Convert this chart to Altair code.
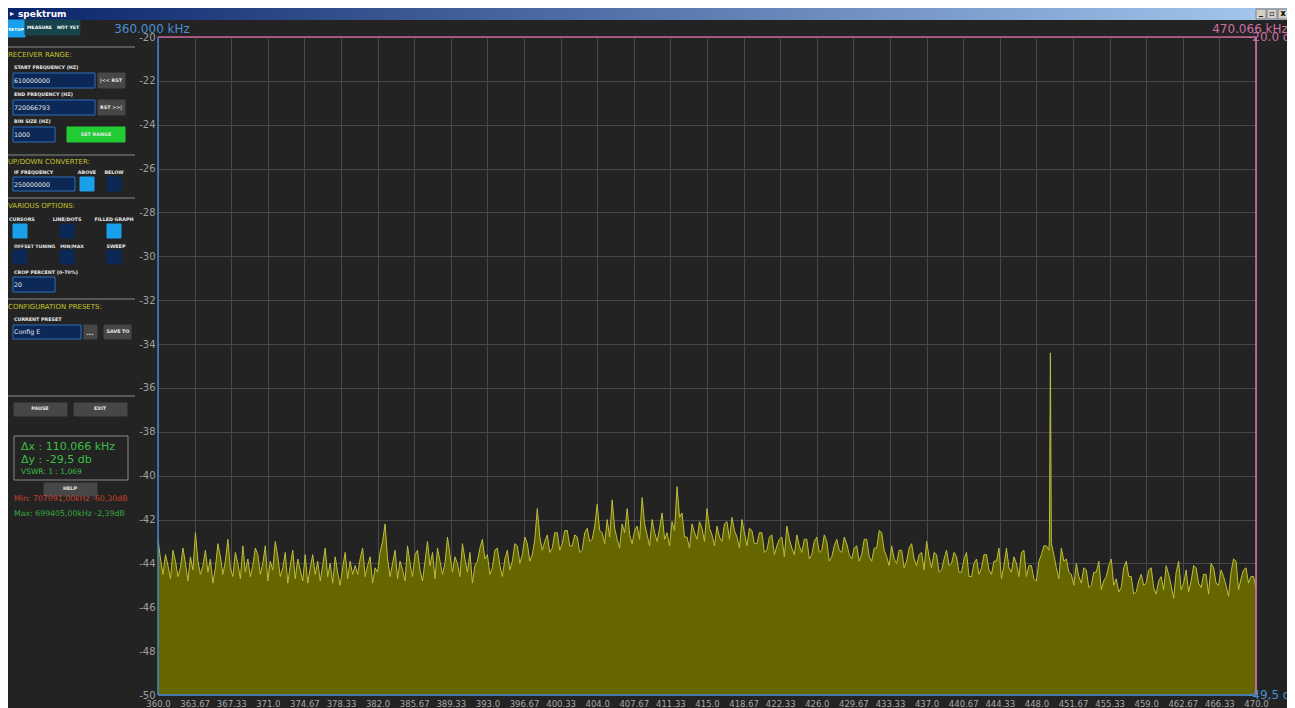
import altair as alt
import pandas as pd

# ---------------- spectrum data ----------------
START_KHZ = 360.0
STEP_KHZ = 0.25
# level of every 0.25 kHz bin from 360.00 to 470.00 kHz (dB), 20 bins per row
db_values = [
    -42.9, -43.8, -44.5, -43.6, -44.1, -44.7, -43.4, -43.9, -44.6, -44.2, -43.3, -44.0, -44.8, -43.7, -44.3, -42.6, -43.9, -44.5, -44.1, -43.4,
    -44.4, -43.8, -44.9, -44.2, -43.1, -43.7, -44.5, -43.9, -42.9, -44.2, -44.6, -43.5, -44.0, -44.7, -43.2, -44.4, -43.8, -44.6, -44.1, -43.3,
    -43.6, -44.5, -44.0, -43.2, -44.8, -43.9, -44.3, -43.0, -43.7, -44.6, -44.2, -43.5, -44.9, -44.1, -43.4, -44.7, -43.8, -44.3, -44.8, -43.6,
    -44.9, -44.2, -43.6, -44.5, -43.9, -44.8, -44.1, -43.3, -44.6, -44.0, -44.9, -43.7, -44.4, -45.0, -44.2, -43.5, -44.7, -43.9, -44.5, -44.1,
    -44.5, -43.8, -43.3, -44.6, -44.1, -43.7, -44.9, -44.2, -44.4, -43.5, -43.0, -42.2, -43.8, -44.6, -44.0, -43.4, -44.7, -43.9, -44.3, -44.8,
    -43.2, -44.0, -44.6, -43.6, -43.4, -44.3, -44.8, -43.9, -43.0, -44.1, -43.5, -44.7, -43.3, -43.9, -44.5, -44.0, -42.8, -43.6, -44.4, -43.7,
    -44.0, -44.6, -43.1, -43.8, -44.4, -43.5, -44.9, -44.1, -43.9, -43.3, -42.9, -43.8, -43.6, -44.5, -44.2, -43.4, -43.3, -44.1, -44.6, -43.8,
    -43.4, -44.3, -43.9, -43.1, -43.2, -44.0, -43.6, -42.8, -43.1, -43.9, -43.6, -42.9, -41.5, -42.8, -43.4, -43.0, -42.7, -43.5, -43.3, -42.6,
    -42.6, -43.4, -43.1, -42.5, -42.5, -43.2, -43.2, -42.7, -42.8, -43.5, -43.4, -42.6, -42.4, -43.0, -42.9, -42.3, -41.3, -42.5, -42.6, -43.1,
    -42.0, -42.8, -41.1, -42.4, -42.9, -43.3, -42.2, -42.6, -41.5, -42.7, -43.1, -42.5, -42.3, -42.9, -41.0, -42.2, -42.7, -43.2, -42.0, -42.6,
    -43.0, -42.4, -41.7, -42.9, -42.6, -43.2, -42.1, -42.5, -40.5, -41.9, -41.7, -42.8, -42.8, -43.3, -42.2, -42.6, -42.9, -42.1, -42.4, -43.0,
    -41.5, -42.4, -42.7, -43.2, -42.3, -42.8, -43.0, -42.2, -42.1, -42.9, -41.9, -42.5, -42.8, -43.3, -42.0, -42.6, -43.2, -42.4, -42.5, -43.1,
    -43.1, -42.6, -42.6, -43.5, -43.4, -42.8, -42.7, -43.6, -43.2, -42.9, -42.8, -43.7, -42.3, -42.9, -43.3, -43.6, -42.7, -43.2, -43.5, -42.9,
    -42.9, -43.8, -43.6, -43.0, -42.8, -43.5, -43.4, -42.7, -43.0, -43.9, -43.7, -43.2, -42.9, -43.4, -43.5, -42.8, -43.1, -43.6, -43.8, -43.3,
    -43.2, -43.9, -43.6, -42.9, -42.9, -43.7, -43.9, -43.3, -43.3, -42.5, -42.6, -43.4, -43.7, -44.1, -43.2, -43.8, -44.0, -43.4, -43.4, -44.2,
    -43.9, -43.3, -43.1, -43.8, -44.1, -43.6, -43.5, -44.3, -43.0, -43.7, -44.2, -43.5, -43.6, -44.4, -44.3, -43.8, -43.4, -44.1, -44.0, -43.5,
    -43.7, -44.4, -44.4, -43.8, -43.5, -44.6, -44.6, -44.0, -43.8, -44.5, -44.2, -43.6, -43.6, -44.3, -44.5, -43.9, -43.9, -43.3, -44.7, -44.1,
    -43.3, -44.2, -44.4, -43.7, -44.0, -44.6, -43.5, -43.4, -44.6, -44.1, -44.1, -44.7, -44.8, -43.9, -43.6, -43.2, -43.2, -43.4, -43.1, -43.6,
    -44.2, -44.7, -43.3, -43.9, -43.8, -44.4, -44.5, -45.0, -44.0, -44.6, -44.9, -44.2, -44.3, -45.1, -45.0, -44.4, -44.4, -43.9, -45.2, -44.8,
    -44.6, -44.1, -43.8, -45.0, -44.7, -45.3, -45.1, -44.2, -43.9, -44.6, -44.6, -45.4, -45.3, -44.8, -44.5, -45.0, -44.9, -44.3, -44.2, -45.1,
    -45.4, -44.8, -44.6, -45.2, -44.1, -44.5, -45.0, -45.6, -44.4, -43.9, -45.2, -44.9, -44.3, -45.3, -44.8, -44.1, -44.2, -44.9, -45.1, -44.5,
    -44.5, -45.4, -44.0, -44.2, -44.9, -45.0, -44.3, -44.6, -45.0, -45.5, -44.4, -43.8, -43.9, -45.2, -44.7, -44.3, -44.2, -44.9, -44.6, -44.6,
    -45.1,
]
# narrow carrier near 449.4 kHz
spike_freq = [449.3, 449.4]
spike_db = [-43.0, -34.4]

x_ticks = [360 + i * 110 / 30 for i in range(31)]
y_ticks = list(range(-50, -19, 2))

cursor_freq = [360.0, 470.0]
cursor_freq_col = ["#3f86d4", "#d77ab0"]
cursor_db = [-20.0, -50.0]
cursor_db_col = ["#c8659a", "#3f86d4"]

freqs = [START_KHZ + STEP_KHZ * i for i in range(len(db_values))]
spec = pd.DataFrame({
    "freq": freqs + spike_freq,
    "db": db_values + spike_db,
}).sort_values("freq").reset_index(drop=True)

# ---------------- layout constants ----------------
PAD_L, PAD_T = 150, 29
W, H = 1098, 658
OX, OY = 8 + PAD_L, 8 + PAD_T  # page position of the plot origin

xs = alt.Scale(domain=[360, 470], nice=False, zero=False)
ys = alt.Scale(domain=[-50, -20], nice=False, zero=False)

x_axis = alt.Axis(
    values=x_ticks,
    labelExpr="abs(datum.value - round(datum.value)) < 0.01 ? format(datum.value, '.1f') : format(datum.value, '.2f')",
    grid=True, gridColor="#484848", gridWidth=1, domain=False, ticks=False,
    labelColor="#a8a8a8", labelFontSize=8.5, labelPadding=4, title=None,
    labelFont="DejaVu Sans", labelOverlap=False, labelFlush=False, labelSeparation=0,
)
y_axis = alt.Axis(
    values=y_ticks, labelExpr="'-' + abs(datum.value)",
    grid=True, gridColor="#484848", gridWidth=1, domain=False, ticks=False,
    labelColor="#a0a0a0", labelFontSize=10, labelPadding=3, title=None,
    labelFont="DejaVu Sans", labelOverlap=False, labelFlush=False,
)
X = dict(scale=xs, axis=x_axis)
Y = dict(scale=ys, axis=y_axis)

area = alt.Chart(spec).mark_area(color="#666600", interpolate="linear").encode(
    x=alt.X("freq:Q", **X), y=alt.Y("db:Q", **Y), y2=alt.datum(-50),
)
line = alt.Chart(spec).mark_line(color="#bdbd3e", strokeWidth=1, interpolate="linear").encode(
    x=alt.X("freq:Q", **X), y=alt.Y("db:Q", **Y)
)

cv = pd.DataFrame({"freq": cursor_freq, "col": cursor_freq_col})
ch = pd.DataFrame({"db": cursor_db, "col": cursor_db_col})
rule_v = alt.Chart(cv).mark_rule(strokeWidth=1.5).encode(
    x=alt.X("freq:Q", **X), color=alt.Color("col:N", scale=None)
)
rule_h = alt.Chart(ch).mark_rule(strokeWidth=1.5).encode(
    y=alt.Y("db:Q", **Y), color=alt.Color("col:N", scale=None)
)

lab_f = pd.DataFrame({"freq": cursor_freq, "db": [-20, -20],
                      "txt": ["360.000 kHz", "470.066 kHz"],
                      "col": ["#4a8fd4", "#d070a6"]})
txt_f = alt.Chart(lab_f).mark_text(fontSize=12, font="DejaVu Sans", baseline="bottom",
                                   align="center", dx=-6, dy=-1).encode(
    x=alt.X("freq:Q", **X), y=alt.Y("db:Q", **Y), text="txt:N",
    color=alt.Color("col:N", scale=None)
)
lab_d = pd.DataFrame({"freq": [470, 470], "db": cursor_db,
                      "txt": ["-20.0 db", "-49,5 db"],
                      "col": ["#d070a6", "#4a8fd4"]})
txt_d = alt.Chart(lab_d).mark_text(fontSize=12, font="DejaVu Sans", baseline="middle",
                                   align="left", dx=-8).encode(
    x=alt.X("freq:Q", **X), y=alt.Y("db:Q", **Y), text="txt:N",
    color=alt.Color("col:N", scale=None)
)

main = alt.layer(area, line, rule_v, rule_h, txt_f, txt_d)

# ---------------- application side panel (page pixel layout) ----------------
NAVY, NAVY_B = "#0b2856", "#2f6fb8"
CYAN = "#19a0ea"
GREY_BTN = "#474747"
panel_rects = [
    # x1, y1, x2, y2, fill, stroke
    (1256, 9, 1266, 19, "#d4d0c8", "#808080"),
    (1267, 9, 1277, 19, "#d4d0c8", "#808080"),
    (1278, 9, 1289, 19, "#d4d0c8", "#808080"),
    (8, 20, 25, 37, CYAN, CYAN),
    (25, 20, 80, 35, "#17444b", "#17444b"),
    (13, 73, 95, 88, NAVY, NAVY_B), (98, 73, 125, 88, GREY_BTN, GREY_BTN),
    (13, 100, 95, 115, NAVY, NAVY_B), (98, 100, 125, 115, GREY_BTN, GREY_BTN),
    (13, 127, 55, 142, NAVY, NAVY_B), (67, 127, 125, 142, "#22cc33", "#22cc33"),
    (13, 177, 75, 191, NAVY, NAVY_B),
    (80, 177, 94, 191, CYAN, CYAN), (107, 177, 121, 191, NAVY, NAVY),
    (13, 224, 27, 238, CYAN, CYAN), (60, 224, 74, 238, NAVY, NAVY),
    (107, 224, 121, 238, CYAN, CYAN),
    (13, 250, 27, 264, NAVY, NAVY), (60, 250, 74, 264, NAVY, NAVY),
    (107, 250, 121, 264, NAVY, NAVY),
    (13, 277, 55, 292, NAVY, NAVY_B),
    (13, 325, 81, 339, NAVY, NAVY_B), (84, 325, 97, 339, GREY_BTN, GREY_BTN),
    (104, 325, 131, 339, GREY_BTN, GREY_BTN),
    (14, 403, 67, 416, GREY_BTN, GREY_BTN), (74, 403, 127, 416, GREY_BTN, GREY_BTN),
    (14, 436, 128, 480, "#232323", "#8a8a8a"),
    (44, 483, 97, 496, GREY_BTN, GREY_BTN),
]
panel_lines = [(8, 135, 47), (8, 135, 155), (8, 135, 198), (8, 135, 299), (8, 135, 396)]

YEL, WHT = "#c4c42c", "#e8e8e8"
# x, y, text, colour, size, align, bold
panel_texts = [
    (18, 14, "spektrum", "#ffffff", 9, "left", True),
    (12, 14, "\u25b8", "#ffffff", 8, "center", True),
    (1261, 13, "_", "#000000", 8, "center", True),
    (1272, 14, "\u25ab", "#000000", 8, "center", True),
    (1283, 14, "x", "#000000", 8, "center", True),
    (16, 30, "SETUP", "#ffffff", 4.3, "center", True),
    (27, 28, "MEASURE", "#ffffff", 4.6, "left", True),
    (57, 28, "NOT YET", "#ffffff", 4.6, "left", True),
    (8, 55, "RECEIVER RANGE:", YEL, 7, "left", False),
    (14, 68, "START FREQUENCY (HZ)", WHT, 4.8, "left", True),
    (14, 81, "610000000", WHT, 6.3, "left", False),
    (111, 81, "|<< RST", WHT, 4.8, "center", True),
    (14, 95, "END FREQUENCY (HZ)", WHT, 4.8, "left", True),
    (14, 108, "720066793", WHT, 6.3, "left", False),
    (111, 108, "RST >>|", WHT, 4.8, "center", True),
    (14, 122, "BIN SIZE (HZ)", WHT, 4.8, "left", True),
    (14, 135, "1000", WHT, 6.3, "left", False),
    (96, 135, "SET RANGE", WHT, 4.8, "center", True),
    (8, 162, "UP/DOWN CONVERTER:", YEL, 7, "left", False),
    (14, 173, "IF FREQUENCY", WHT, 4.8, "left", True),
    (87, 173, "ABOVE", WHT, 4.8, "center", True),
    (114, 173, "BELOW", WHT, 4.8, "center", True),
    (14, 185, "250000000", WHT, 6.3, "left", False),
    (8, 206, "VARIOUS OPTIONS:", YEL, 7, "left", False),
    (9, 220, "CURSORS", WHT, 4.8, "left", True),
    (67, 220, "LINE/DOTS", WHT, 4.8, "center", True),
    (114, 220, "FILLED GRAPH", WHT, 4.8, "center", True),
    (14, 247, "OFFSET TUNING", WHT, 4.6, "left", True),
    (72, 247, "MIN/MAX", WHT, 4.6, "center", True),
    (116, 247, "SWEEP", WHT, 4.8, "center", True),
    (14, 273, "CROP PERCENT (0-70%)", WHT, 4.8, "left", True),
    (14, 285, "20", WHT, 6.3, "left", False),
    (8, 307, "CONFIGURATION PRESETS:", YEL, 7, "left", False),
    (14, 320, "CURRENT PRESET", WHT, 4.8, "left", True),
    (14, 332, "Config E", WHT, 6.3, "left", False),
    (90, 333, "...", WHT, 6, "center", True),
    (118, 332, "SAVE TO", WHT, 4.8, "center", True),
    (40, 409, "PAUSE", WHT, 4.8, "center", True),
    (100, 409, "EXIT", WHT, 4.8, "center", True),
    (21, 447, "\u0394x : 110.066 kHz", "#3cbe46", 11, "left", False),
    (21, 460, "\u0394y : -29,5 db", "#3cbe46", 11, "left", False),
    (21, 472, "VSWR: 1 : 1,069", "#3cbe46", 7.5, "left", False),
    (70, 489, "HELP", WHT, 4.8, "center", True),
    (14, 499, "Min: 707091,00kHz -60,30dB", "#c8402c", 7.8, "left", False),
    (14, 514, "Max: 699405,00kHz -2,39dB", "#34aa40", 7.8, "left", False),
]

pr = pd.DataFrame(panel_rects, columns=["x1", "y1", "x2", "y2", "fill", "stroke"])
pr[["x1", "x2"]] = pr[["x1", "x2"]] - OX
pr[["y1", "y2"]] = pr[["y1", "y2"]] - OY
pl = pd.DataFrame(panel_lines, columns=["x1", "x2", "y"])
pl[["x1", "x2"]] = pl[["x1", "x2"]] - OX
pl["y"] = pl["y"] - OY
pt = pd.DataFrame(panel_texts, columns=["x", "y", "txt", "col", "size", "align", "bold"])
pt["x"] = pt["x"] - OX
pt["y"] = pt["y"] - OY

titlebar = pd.DataFrame({"x1": [8 - OX], "x2": [1295 - OX], "y1": [8 - OY], "y2": [20 - OY]})
bar = alt.Chart(titlebar).mark_rect(
    color=alt.Gradient(gradient="linear", x1=0, x2=1, y1=0, y2=0,
                       stops=[alt.GradientStop(color="#0a246a", offset=0),
                              alt.GradientStop(color="#a6caf0", offset=1)])
).encode(
    x=alt.X("x1:Q", scale=None), x2="x2:Q", y=alt.Y("y1:Q", scale=None), y2="y2:Q"
)
rects = alt.Chart(pr).mark_rect(strokeWidth=1).encode(
    x=alt.X("x1:Q", scale=None), x2="x2:Q", y=alt.Y("y1:Q", scale=None), y2="y2:Q",
    fill=alt.Fill("fill:N", scale=None), stroke=alt.Stroke("stroke:N", scale=None)
)
seps = alt.Chart(pl).mark_rule(color="#8c8c8c", strokeWidth=1).encode(
    x=alt.X("x1:Q", scale=None), x2="x2:Q", y=alt.Y("y:Q", scale=None)
)


def text_layer(frame, align, bold):
    sub = frame[(frame["align"] == align) & (frame["bold"] == bold)].drop(columns=["bold"])
    return alt.Chart(sub).mark_text(
        align=align, baseline="middle", font="DejaVu Sans",
        fontWeight="bold" if bold else "normal"
    ).encode(
        x=alt.X("x:Q", scale=None), y=alt.Y("y:Q", scale=None), text="txt:N",
        color=alt.Color("col:N", scale=None), size=alt.Size("size:Q", scale=None)
    )


panel = alt.layer(
    bar, rects, seps,
    text_layer(pt, "left", True), text_layer(pt, "left", False),
    text_layer(pt, "center", True),
)

chart = alt.layer(main, panel).resolve_scale(
    x="independent", y="independent", color="independent", size="independent"
).properties(
    width=W, height=H,
    autosize=alt.AutoSizeParams(type="none"),
    padding={"left": PAD_L, "top": PAD_T, "right": 1279 - PAD_L - W, "bottom": 700 - PAD_T - H},
    background="#232323",
).configure_view(stroke=None).configure_axisX(labelOverlap=False)

chart.save("out.html", embed_options={"renderer": "svg", "actions": False})
